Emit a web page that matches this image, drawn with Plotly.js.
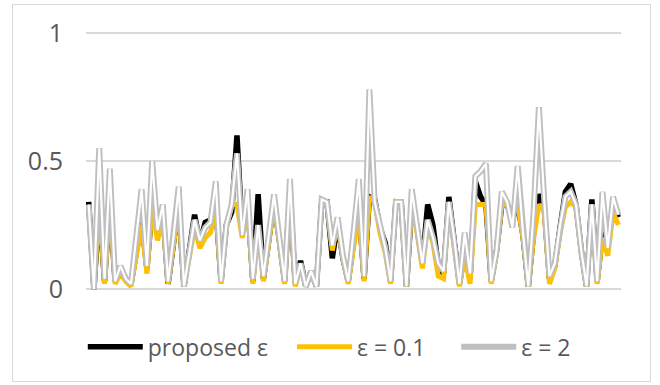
<!DOCTYPE html>
<html>
<head>
<meta charset="utf-8">
<script src="https://cdn.plot.ly/plotly-3.0.1.min.js"></script>
<style>
html,body{margin:0;padding:0;background:#fff;}
#wrap{position:relative;width:660px;height:385px;}
#chart{position:absolute;left:0;top:0;width:660px;height:385px;}
#frame{position:absolute;left:12px;top:4px;width:637px;height:376px;border:1px solid #D9D9D9;pointer-events:none;}
</style>
</head>
<body>
<div id="wrap"><div id="chart"></div><div id="frame"></div></div>
<script>
const seriesNames = ["proposed ε", "ε = 0.1", "ε = 2"];
const yTicks = [0, 0.5, 1];
const yTickLabels = ["0", "0.5", "1"];

const proposed = [0.34,0.00,0.33,0.03,0.34,0.03,0.08,0.04,0.02,0.15,
0.27,0.08,0.33,0.22,0.30,0.02,0.18,0.33,0.01,0.14,
0.29,0.18,0.26,0.27,0.33,0.03,0.25,0.30,0.60,0.22,
0.35,0.03,0.37,0.04,0.19,0.34,0.19,0.03,0.38,0.02,
0.11,0.01,0.07,0.01,0.34,0.34,0.12,0.26,0.12,0.03,
0.18,0.32,0.04,0.36,0.35,0.24,0.18,0.03,0.34,0.34,
0.01,0.33,0.24,0.10,0.33,0.25,0.09,0.06,0.36,0.19,
0.02,0.15,0.04,0.42,0.36,0.33,0.03,0.15,0.33,0.33,
0.27,0.33,0.21,0.01,0.22,0.37,0.32,0.04,0.09,0.24,
0.38,0.41,0.33,0.15,0.01,0.35,0.03,0.22,0.16,0.33,0.28];

const eps01 = [0.32,0.00,0.33,0.02,0.33,0.02,0.06,0.03,0.01,0.13,
0.25,0.06,0.32,0.19,0.28,0.02,0.17,0.32,0.01,0.12,
0.24,0.16,0.20,0.22,0.32,0.02,0.24,0.33,0.33,0.20,
0.33,0.02,0.24,0.03,0.18,0.33,0.18,0.02,0.36,0.01,
0.09,0.01,0.06,0.01,0.34,0.33,0.15,0.26,0.12,0.02,
0.16,0.30,0.03,0.36,0.34,0.22,0.14,0.02,0.34,0.33,
0.01,0.33,0.22,0.08,0.25,0.18,0.05,0.04,0.33,0.18,
0.01,0.13,0.02,0.33,0.33,0.33,0.02,0.14,0.33,0.33,
0.30,0.33,0.20,0.01,0.20,0.33,0.30,0.02,0.08,0.22,
0.32,0.34,0.32,0.14,0.01,0.33,0.02,0.20,0.13,0.30,0.25];

const eps2 = [0.33,0.00,0.55,0.04,0.47,0.03,0.09,0.04,0.02,0.20,
0.39,0.09,0.50,0.23,0.33,0.03,0.20,0.40,0.01,0.14,
0.27,0.19,0.24,0.26,0.42,0.03,0.25,0.33,0.53,0.21,
0.39,0.04,0.25,0.05,0.20,0.37,0.20,0.03,0.43,0.02,
0.10,0.01,0.07,0.01,0.35,0.34,0.17,0.28,0.13,0.03,
0.22,0.43,0.05,0.78,0.34,0.25,0.16,0.03,0.34,0.34,
0.01,0.39,0.25,0.10,0.27,0.20,0.10,0.07,0.34,0.20,
0.02,0.22,0.06,0.44,0.46,0.49,0.03,0.15,0.38,0.34,
0.24,0.48,0.22,0.01,0.30,0.71,0.35,0.05,0.10,0.25,
0.36,0.38,0.33,0.15,0.01,0.33,0.03,0.38,0.16,0.36,0.29];

const categories = proposed.map((_, i) => i + 1);

const traces = [
  {x: categories, y: proposed, name: seriesNames[0], type: 'scatter', mode: 'lines',
   line: {color: '#000000', width: 5.5}, legend: 'legend'},
  {x: categories, y: eps01, name: seriesNames[1], type: 'scatter', mode: 'lines',
   line: {color: '#FFC000', width: 5}, legend: 'legend2'},
  {x: categories, y: eps2, name: seriesNames[2], type: 'scatter', mode: 'lines',
   line: {color: '#BFBFBF', width: 6}, legend: 'legend3'},
  {x: categories, y: eps2, name: seriesNames[2], type: 'scatter', mode: 'lines',
   line: {color: '#FFFFFF', width: 2.2}, showlegend: false, hoverinfo: 'skip'}
];

function legendAt(xPos) {
  return {orientation: 'h', x: xPos, xanchor: 'left', y: -0.22, yanchor: 'middle',
          itemwidth: 55, bgcolor: 'rgba(0,0,0,0)', font: {size: 23, color: '#595959'}};
}

const layout = {
  width: 660, height: 385,
  margin: {l: 86, r: 39, t: 32, b: 95},
  paper_bgcolor: '#ffffff', plot_bgcolor: '#ffffff',
  font: {family: 'Open Sans, Noto Sans, sans-serif', color: '#595959', size: 23},
  showlegend: true,
  legend: legendAt(-0.006),
  legend2: legendAt(0.385),
  legend3: legendAt(0.692),
  xaxis: {range: [0.5, categories.length + 0.5], showgrid: false, zeroline: false,
          showticklabels: false, ticks: '', showline: false, fixedrange: true},
  yaxis: {range: [-0.004, 1.004], tickvals: yTicks, ticktext: yTickLabels, showgrid: true,
          gridcolor: '#D9D9D9', gridwidth: 1.5, zeroline: false, showline: false, ticks: '',
          ticklabelstandoff: 22, tickfont: {size: 25, color: '#595959'}}
};

Plotly.newPlot('chart', traces, layout, {displayModeBar: false, staticPlot: true});
</script>
</body>
</html>
